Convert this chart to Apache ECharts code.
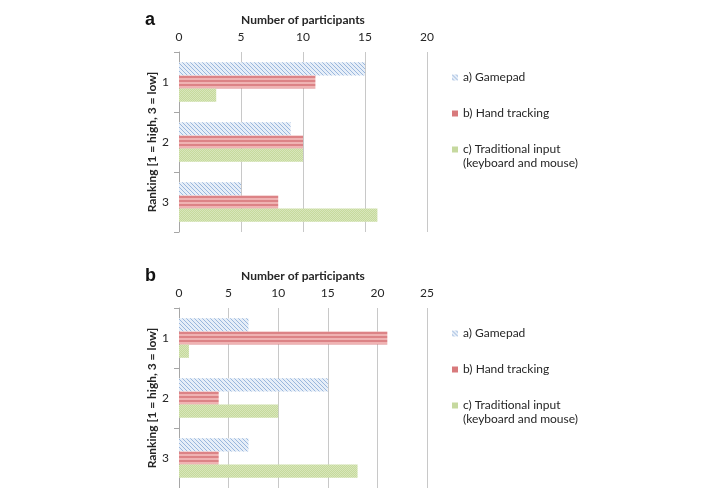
<!DOCTYPE html>
<html>
<head>
<meta charset="utf-8">
<script src="https://cdn.jsdelivr.net/npm/echarts@6/dist/echarts.min.js"></script>
<style>
  html, body { margin: 0; padding: 0; background: #fff; }
  #chart { width: 721px; height: 488px; }
</style>
</head>
<body>
<div id="chart"></div>
<script>
// data
var rankings = ['1', '2', '3'];
var seriesNames = ['a) Gamepad', 'b) Hand tracking', 'c) Traditional input'];
var extraLine = '(keyboard and mouse)';
// panel a
var gamepadA = [15, 9, 5];
var handA = [11, 10, 8];
var traditionalA = [3, 10, 16];
// panel b
var gamepadB = [7, 15, 7];
var handB = [21, 4, 4];
var traditionalB = [1, 10, 18];

// little fill patterns like the Excel ones
function makePattern(w, h, draw) {
    var c = document.createElement('canvas');
    c.width = w; c.height = h;
    draw(c.getContext('2d'));
    return { image: c, repeat: 'repeat' };
}
var bluePat = makePattern(4, 4, function (g) {
    g.fillStyle = '#e6eef8'; g.fillRect(0, 0, 4, 4);
    g.fillStyle = '#9ab7dd';
    for (var i = 0; i < 4; i++) { g.fillRect(i, i, 1, 1); }
});
var redPat = makePattern(4, 4, function (g) {
    g.fillStyle = '#efb3b3'; g.fillRect(0, 0, 4, 4);
    g.fillStyle = '#dc8386'; g.fillRect(0, 0, 4, 2);
});
var greenPat = makePattern(2, 2, function (g) {
    g.fillStyle = '#c6da9c'; g.fillRect(0, 0, 2, 2);
    g.fillStyle = '#d8e6bb'; g.fillRect(0, 0, 1, 1); g.fillRect(1, 1, 1, 1);
});
var colors = [bluePat, redPat, greenPat];
var legendColors = [bluePat, '#d87a7c', '#c6d99f'];

var font = 'Lato, "Open Sans", sans-serif';
var txt = '#262626';

function xAxisFor(idx, max) {
    return {
        gridIndex: idx,
        type: 'value',
        position: 'top',
        min: 0,
        max: max,
        interval: 5,
        name: 'Number of participants',
        nameLocation: 'middle',
        nameGap: 26,
        nameTextStyle: { fontFamily: font, fontSize: 12, fontWeight: 'bold', color: txt },
        axisLine: { show: false },
        axisTick: { show: false },
        axisLabel: { margin: 9, fontFamily: font, fontSize: 12, color: txt },
        splitLine: { show: true, lineStyle: { color: '#c8c8c8', width: 1 } }
    };
}
function yAxisFor(idx) {
    return {
        gridIndex: idx,
        type: 'category',
        inverse: true,
        data: rankings,
        name: 'Ranking [1 = high, 3 = low]',
        nameLocation: 'middle',
        nameRotate: 90,
        nameGap: 21,
        nameTextStyle: { fontFamily: font, fontSize: 12, fontWeight: 'bold', color: txt },
        axisLine: { lineStyle: { color: '#a6a6a6', width: 1 } },
        axisTick: { show: true, length: 5, lineStyle: { color: '#a6a6a6' } },
        axisLabel: { margin: 10, fontFamily: font, fontSize: 12, color: txt }
    };
}
function barSeries(name, data, i, gi) {
    return {
        name: name,
        type: 'bar',
        xAxisIndex: gi,
        yAxisIndex: gi,
        data: data,
        barGap: '0%',
        barCategoryGap: '34%',
        itemStyle: { color: colors[i] },
        emphasis: { disabled: true }
    };
}
function legendFor(top) {
    return {
        orient: 'vertical',
        left: 452,
        top: top,
        padding: 0,
        itemWidth: 6,
        itemHeight: 6,
        itemGap: 21,
        icon: 'rect',
        selectedMode: false,
        textStyle: { fontFamily: font, fontSize: 12, color: txt, lineHeight: 15 },
        data: seriesNames.map(function (n, i) {
            return { name: n, itemStyle: { color: legendColors[i] } };
        })
    };
}
function secondLine(y) {
    return { type: 'text', left: 463, top: y, style: { text: extraLine, font: '12px ' + font, fill: txt } };
}

var chart = echarts.init(document.getElementById('chart'));
var option = {
    backgroundColor: '#fff',
    animation: false,
    grid: [
        { left: 179, top: 52, width: 248, height: 180 },
        { left: 179, top: 308, width: 248, height: 180 }
    ],
    xAxis: [xAxisFor(0, 20), xAxisFor(1, 25)],
    yAxis: [yAxisFor(0), yAxisFor(1)],
    legend: [legendFor(70), legendFor(326)],
    series: [
        barSeries(seriesNames[0], gamepadA, 0, 0),
        barSeries(seriesNames[1], handA, 1, 0),
        barSeries(seriesNames[2], traditionalA, 2, 0),
        barSeries(seriesNames[0], gamepadB, 0, 1),
        barSeries(seriesNames[1], handB, 1, 1),
        barSeries(seriesNames[2], traditionalB, 2, 1)
    ],
    graphic: [
        { type: 'text', left: 145, top: 11, style: { text: 'a', font: 'bold 18px "Liberation Sans", Arial, sans-serif', fill: '#111' } },
        { type: 'text', left: 145, top: 267, style: { text: 'b', font: 'bold 18px "Liberation Sans", Arial, sans-serif', fill: '#111' } },
        secondLine(157),
        secondLine(413)
    ]
};
chart.setOption(option);
window.addEventListener('resize', function () { chart.resize(); });
</script>
</body>
</html>
